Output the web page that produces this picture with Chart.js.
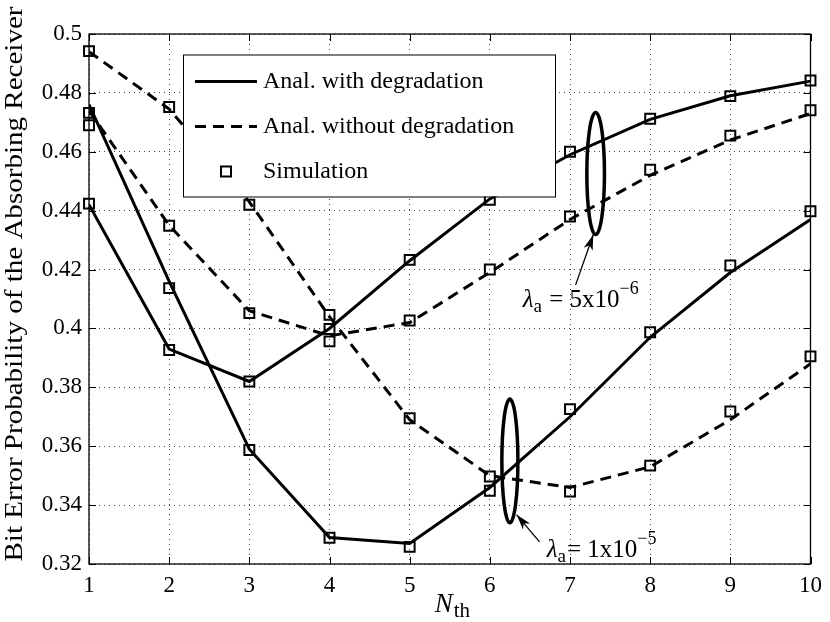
<!DOCTYPE html>
<html>
<head>
<meta charset="utf-8">
<script src="https://cdn.jsdelivr.net/npm/chart.js@4/dist/chart.umd.min.js"></script>
<style>
  html, body { margin: 0; padding: 0; background: #fff; }
  #wrap { width: 830px; height: 622px; }
</style>
</head>
<body>
<div id="wrap"><canvas id="berChart" width="830" height="622"></canvas></div>
<script>
// threshold values on the x axis
const nth = [1, 2, 3, 4, 5, 6, 7, 8, 9, 10];

// analytical curves, lambda_a = 1e-5 and 5e-6
const anaDeg1e5 = [0.476, 0.416, 0.359, 0.329, 0.327, 0.346, 0.370, 0.397, 0.419, 0.437];
const anaDeg5e6 = [0.442, 0.393, 0.382, 0.400, 0.423, 0.444, 0.459, 0.471, 0.479, 0.484];
const anaNoDeg1e5 = [0.494, 0.4745, 0.443, 0.404, 0.369, 0.350, 0.346, 0.353, 0.369, 0.388];
const anaNoDeg5e6 = [0.474, 0.435, 0.406, 0.3975, 0.402, 0.419, 0.437, 0.452, 0.464, 0.473];

// simulation points
const simDeg1e5 = [0.469, 0.4137, 0.3587, 0.3289, 0.3258, 0.3449, 0.3726, 0.3987, 0.4214, 0.4398];
const simDeg5e6 = [0.4424, 0.3927, 0.382, 0.3998, 0.4233, 0.4437, 0.460, 0.4712, 0.4789, 0.4842];
const simNoDeg1e5 = [0.4942, 0.4752, 0.442, 0.4046, 0.3695, 0.3497, 0.3446, 0.3534, 0.3718, 0.3905];
const simNoDeg5e6 = [0.4732, 0.4349, 0.4052, 0.3956, 0.4027, 0.420, 0.438, 0.4539, 0.4655, 0.4741];

const yTicks = [0.32, 0.34, 0.36, 0.38, 0.4, 0.42, 0.44, 0.46, 0.48, 0.5];
const legendLabels = ['Anal. with degradation', 'Anal. without degradation', 'Simulation'];

const SERIF = '"Liberation Serif", "Times New Roman", serif';

function pts(ys) {
    return nth.map((x, i) => ({ x: x, y: ys[i] }));
}

const simAll = [].concat(pts(simDeg1e5), pts(simDeg5e6), pts(simNoDeg1e5), pts(simNoDeg5e6));

function lineSet(label, ys, dashed) {
    return {
        label: label,
        data: pts(ys),
        showLine: true,
        borderColor: '#000',
        borderWidth: 3,
        borderDash: dashed ? [11, 7] : [],
        pointRadius: 0,
        fill: false,
    };
}

// frame, inward ticks, legend, ellipses and axis titles
const decorations = {
    id: 'decorations',
    afterDatasetsDraw(chart) {
        const ctx = chart.ctx;
        const a = chart.chartArea;
        const xs = chart.scales.x;
        const ys = chart.scales.y;
        const px = v => xs.getPixelForValue(v);
        const py = v => ys.getPixelForValue(v);

        ctx.save();
        // inward ticks on all four sides
        ctx.strokeStyle = '#000';
        ctx.lineWidth = 1;
        ctx.setLineDash([]);
        ctx.beginPath();
        nth.forEach(v => {
            const x = Math.round(px(v)) + 0.5;
            ctx.moveTo(x, a.bottom); ctx.lineTo(x, a.bottom - 7);
            ctx.moveTo(x, a.top); ctx.lineTo(x, a.top + 7);
        });
        yTicks.forEach(v => {
            const y = Math.round(py(v)) + 0.5;
            ctx.moveTo(a.left, y); ctx.lineTo(a.left + 7, y);
            ctx.moveTo(a.right, y); ctx.lineTo(a.right - 7, y);
        });
        ctx.stroke();
        ctx.lineWidth = 1.3;
        ctx.strokeRect(a.left, a.top, a.right - a.left, a.bottom - a.top);

        // ellipses marking each pair of curves
        ctx.lineWidth = 3.5;
        [[7.32, 0.4526, 0.11, 0.0207], [6.25, 0.355, 0.1, 0.021]].forEach(e => {
            const cx = px(e[0]), cy = py(e[1]);
            const rx = px(e[0] + e[2]) - cx, ry = cy - py(e[1] + e[3]);
            ctx.beginPath();
            ctx.ellipse(cx, cy, rx, ry, 0, 0, Math.PI * 2);
            ctx.stroke();
        });

        // arrows
        ctx.lineWidth = 1.3;
        [[7.07, 0.4148, 7.29, 0.4318], [6.62, 0.3275, 6.335, 0.3367]].forEach(r => {
            const x0 = px(r[0]), y0 = py(r[1]), x1 = px(r[2]), y1 = py(r[3]);
            const ang = Math.atan2(y1 - y0, x1 - x0);
            ctx.beginPath();
            ctx.moveTo(x0, y0); ctx.lineTo(x1, y1);
            ctx.stroke();
            ctx.beginPath();
            ctx.moveTo(x1, y1);
            ctx.lineTo(x1 - 16 * Math.cos(ang - 0.3), y1 - 16 * Math.sin(ang - 0.3));
            ctx.lineTo(x1 - 11 * Math.cos(ang), y1 - 11 * Math.sin(ang));
            ctx.lineTo(x1 - 16 * Math.cos(ang + 0.3), y1 - 16 * Math.sin(ang + 0.3));
            ctx.closePath();
            ctx.fillStyle = '#000';
            ctx.fill();
        });

        // lambda labels
        ctx.fillStyle = '#000';
        ctx.textBaseline = 'alphabetic';
        ctx.textAlign = 'left';
        [[6.41, 0.4073, ' = 5x10', '\u22126'], [6.71, 0.3224, '= 1x10', '\u22125']].forEach(t => {
            let x = px(t[0]);
            const y = py(t[1]);
            ctx.font = 'italic 25px ' + SERIF;
            ctx.fillText('\u03bb', x, y);
            x += ctx.measureText('\u03bb').width;
            ctx.font = '19px ' + SERIF;
            ctx.fillText('a', x, y + 5);
            x += ctx.measureText('a').width + 1;
            ctx.font = '25px ' + SERIF;
            ctx.fillText(t[2], x, y);
            x += ctx.measureText(t[2]).width;
            ctx.font = '18px ' + SERIF;
            ctx.fillText(t[3], x, y - 13);
        });

        // legend box
        const lx = a.left + 94, ly = a.top + 20.5, lw = 372, lh = 142;
        ctx.fillStyle = '#fff';
        ctx.fillRect(lx, ly, lw, lh);
        ctx.strokeStyle = '#000';
        ctx.lineWidth = 1;
        ctx.strokeRect(lx + 0.5, ly + 0.5, lw, lh);
        ctx.font = '24px ' + SERIF;
        ctx.textBaseline = 'middle';
        legendLabels.forEach((lab, i) => {
            const rowY = ly + 27 + i * 45;
            ctx.fillStyle = '#000';
            ctx.fillText(lab, lx + 80, rowY);
            ctx.lineWidth = 3;
            if (i < 2) {
                ctx.setLineDash(i === 1 ? [11, 7] : []);
                ctx.beginPath();
                ctx.moveTo(lx + 12, rowY); ctx.lineTo(lx + 74, rowY);
                ctx.stroke();
                ctx.setLineDash([]);
            } else {
                ctx.lineWidth = 2;
                ctx.strokeRect(lx + 38, rowY - 5, 10, 10);
            }
        });

        // y axis title, stretched to the reference length
        ctx.save();
        ctx.translate(15, 284);
        ctx.rotate(-Math.PI / 2);
        ctx.font = '25px ' + SERIF;
        ctx.textAlign = 'center';
        ctx.textBaseline = 'middle';
        const yTitle = 'Bit Error Probability of the Absorbing Receiver';
        const w = ctx.measureText(yTitle).width;
        ctx.scale(555 / w, 1);
        ctx.fillStyle = '#000';
        ctx.fillText(yTitle, 0, 0);
        ctx.restore();

        // x axis title N_th
        ctx.textAlign = 'left';
        ctx.textBaseline = 'alphabetic';
        ctx.fillStyle = '#000';
        ctx.font = 'italic 27px ' + SERIF;
        const nx = (a.left + a.right) / 2 - 15;
        ctx.fillText('N', nx, 612);
        const nw = ctx.measureText('N').width;
        ctx.font = '21px ' + SERIF;
        ctx.fillText('th', nx + nw + 1, 617);
        ctx.restore();
    }
};

const ctx = document.getElementById('berChart').getContext('2d');
new Chart(ctx, {
    type: 'scatter',
    data: {
        datasets: [
            lineSet('deg 1e-5', anaDeg1e5, false),
            lineSet('deg 5e-6', anaDeg5e6, false),
            lineSet('nodeg 1e-5', anaNoDeg1e5, true),
            lineSet('nodeg 5e-6', anaNoDeg5e6, true),
            {
                label: 'Simulation',
                data: simAll,
                showLine: false,
                pointStyle: 'rect',
                pointRadius: 7,
                pointBorderWidth: 2,
                pointBorderColor: '#000',
                pointBackgroundColor: 'rgba(0,0,0,0)',
                clip: false,
            },
        ]
    },
    options: {
        responsive: false,
        animation: false,
        layout: { padding: { left: 0, right: 14, top: 34, bottom: 0 } },
        plugins: {
            legend: { display: false },
            tooltip: { enabled: false },
        },
        scales: {
            x: {
                type: 'linear',
                min: 1,
                max: 10,
                afterFit: s => { s.height = 58; },
                afterBuildTicks: s => { s.ticks = nth.map(v => ({ value: v })); },
                ticks: {
                    padding: 8,
                    color: '#000',
                    font: { family: SERIF, size: 23 },
                    maxRotation: 0,
                    autoSkip: false,
                },
                grid: { color: '#444', lineWidth: 1, drawTicks: false },
                border: { display: false, dash: [1, 4] },
            },
            y: {
                min: 0.32,
                max: 0.5,
                afterFit: s => { s.width = 89; },
                afterBuildTicks: s => { s.ticks = yTicks.map(v => ({ value: v })); },
                ticks: {
                    padding: 7,
                    color: '#000',
                    font: { family: SERIF, size: 23 },
                    callback: v => String(parseFloat(v.toFixed(2))),
                },
                grid: { color: '#444', lineWidth: 1, drawTicks: false },
                border: { display: false, dash: [1, 4] },
            }
        }
    },
    plugins: [decorations]
});
</script>
</body>
</html>
